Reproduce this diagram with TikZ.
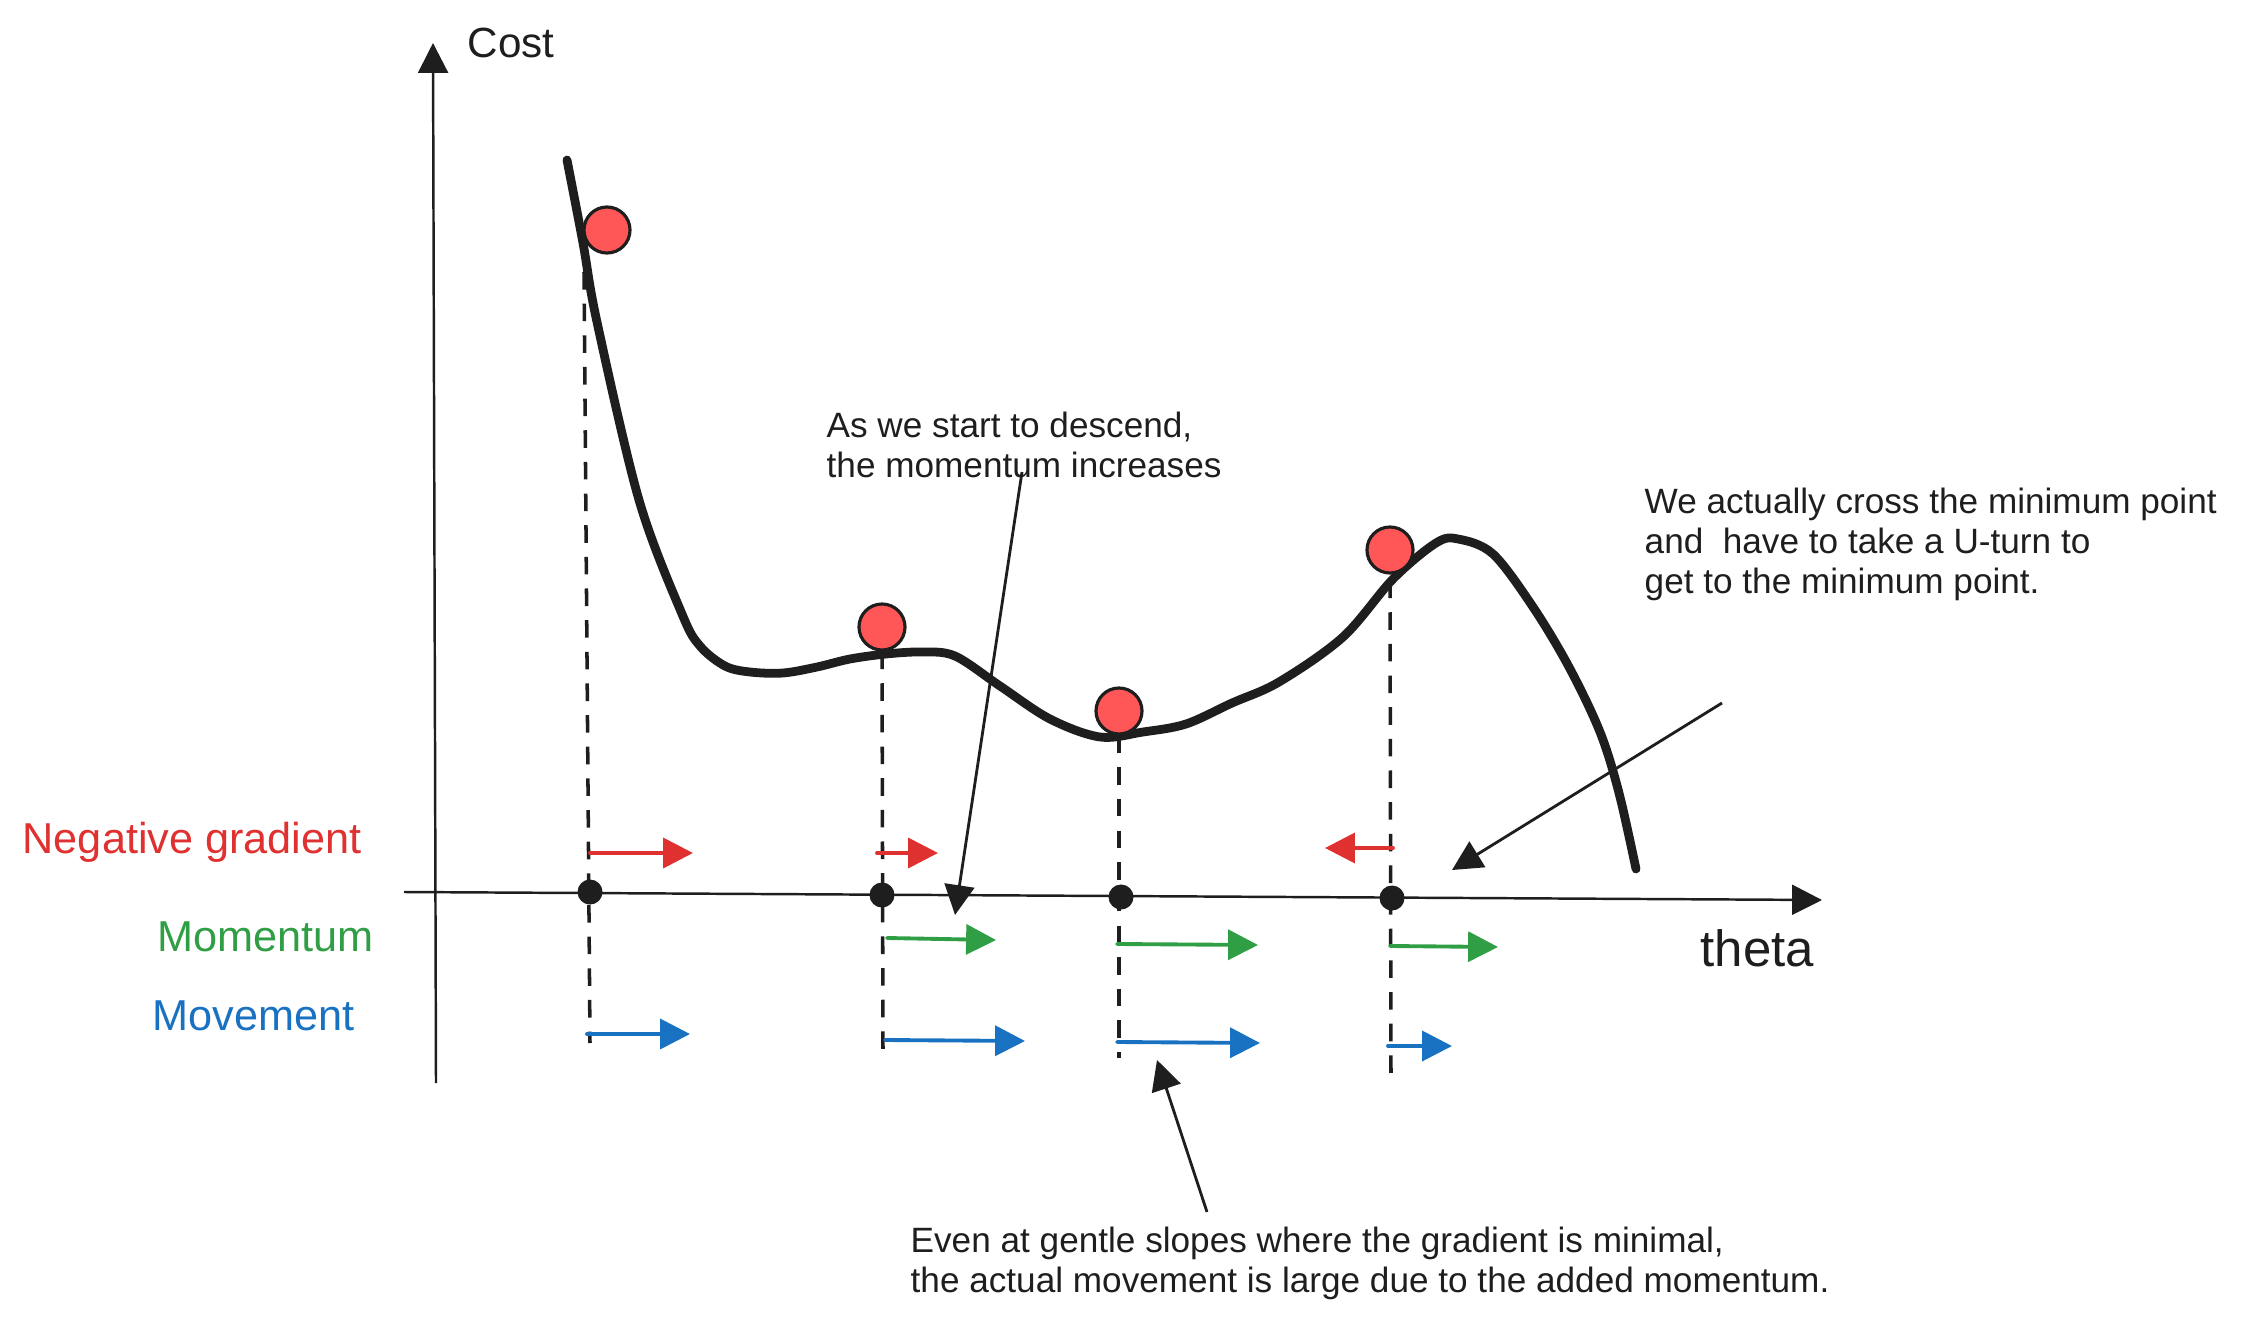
\documentclass[tikz,border=0pt]{standalone}
\usepackage{fontspec}
\setmainfont{Liberation Sans}
\usetikzlibrary{arrows.meta}
\definecolor{inkblack}{HTML}{1E1E1E}
\definecolor{gradred}{HTML}{E03131}
\definecolor{momgreen}{HTML}{2F9E44}
\definecolor{moveblue}{HTML}{1971C2}
\definecolor{ballred}{HTML}{FF5757}

\begin{document}
\begin{tikzpicture}[x=0.01cm, y=-0.01cm, >={Triangle[length=8.5pt,width=8.5pt]},
	note/.style={font=\fontsize{10}{11.4}\selectfont, text=inkblack, align=left, anchor=west, inner sep=0pt},
	rowlabel/.style={font=\fontsize{12.3}{14}\selectfont, anchor=west, inner sep=0pt},
	ball/.style={circle, draw=inkblack, line width=0.9pt, fill=ballred, minimum size=0.46cm, inner sep=0pt},
	dotpt/.style={circle, fill=inkblack, minimum size=0.25cm, inner sep=0pt},
	guide/.style={inkblack, line width=1pt, dash pattern=on 5pt off 4pt},
	vec/.style={->, line width=1.1pt, line cap=round},
	callout/.style={->, inkblack, line width=0.8pt}]
	\useasboundingbox (0,0) rectangle (2241,1324);
	\coordinate (xstart) at (404,892);
	\coordinate (xend) at (1822,900);
	\coordinate (ystart) at (436,1083);
	\coordinate (yend) at (433,43);
	\draw[->, inkblack, line width=0.7pt] (xstart) -- (xend);
	\draw[->, inkblack, line width=0.7pt] (ystart) -- (yend);
	\node[font=\fontsize{12}{14}\selectfont, text=inkblack, anchor=west, inner sep=0pt] (costlbl) at (467,43) {Cost};
	\node[font=\fontsize{14.5}{17}\selectfont, text=inkblack, anchor=west, inner sep=0pt] (thetalbl) at (1700,948) {theta};
	\draw[inkblack, line width=2.5pt, line cap=round, line join=round] plot[smooth, tension=0.55] coordinates {(567,160) (583,243) (597,322) (639,500) (682,614) (700,646) (725,666) (750,672) (783,673) (817,667) (850,659) (886,654) (922,652) (955,656) (1000,686) (1050,719) (1100,737) (1143,732) (1186,724) (1232,703) (1279,682) (1343,637) (1393,579) (1436,543) (1458,539) (1493,554) (1533,607) (1569,667) (1600,732) (1619,793) (1636,869)};
	\node[ball] (b1) at (607,230) {};
	\node[ball] (b2) at (882,627) {};
	\node[ball] (b3) at (1119,711) {};
	\node[ball] (b4) at (1390,550) {};
	\node[dotpt] (p1) at (590,892) {};
	\node[dotpt] (p2) at (882,895) {};
	\node[dotpt] (p3) at (1121,897) {};
	\node[dotpt] (p4) at (1392,898) {};
	\coordinate (d1) at (590,1043);
	\coordinate (d2) at (883,1052);
	\coordinate (d3) at (1119,1058);
	\coordinate (d4) at (1391,1077);
	\draw[guide] (584,272) -- (d1);
	\draw[guide] (b2.south) -- (d2);
	\draw[guide] (b3.south) -- (d3);
	\draw[guide] (b4.south) ++(0,6) -- (d4);
	\node[rowlabel, text=gradred] (gradlbl) at (22,842) {Negative gradient};
	\node[rowlabel, text=momgreen] (momlbl) at (157,937) {Momentum};
	\node[rowlabel, text=moveblue] (movelbl) at (152,1016) {Movement};
	\draw[vec, gradred] (590,853) -- (693,853);
	\draw[vec, gradred] (877,853) -- (938,853);
	\draw[vec, gradred] (1393,848) -- (1325,848);
	\draw[vec, momgreen] (887,938) -- (996,940);
	\draw[vec, momgreen] (1117,944) -- (1258,945);
	\draw[vec, momgreen] (1390,946) -- (1498,947);
	\draw[vec, moveblue] (587,1034) -- (690,1034);
	\draw[vec, moveblue] (885,1040) -- (1025,1041);
	\draw[vec, moveblue] (1117,1042) -- (1260,1043);
	\draw[vec, moveblue] (1388,1046) -- (1452,1046);
	\node[note] (descnote) at (826,445) {As we start to descend,\\the momentum increases};
	\node[note] (uturnnote) at (1644,544) {We actually cross the minimum point\\and \ have to take a U-turn to\\get to the minimum point.};
	\node[note] (slopenote) at (910,1263) {Even at gentle slopes where the gradient is minimal,\\the actual movement is large due to the added momentum.};
	\coordinate (desctail) at (1022,472);
	\coordinate (deschead) at (955,915);
	\coordinate (uturntail) at (1722,703);
	\coordinate (uturnhead) at (1452,870);
	\coordinate (slopetail) at (1207,1212);
	\coordinate (slopehead) at (1157,1060);
	\draw[callout] (desctail) -- (deschead);
	\draw[callout] (uturntail) -- (uturnhead);
	\draw[callout] (slopetail) -- (slopehead);
\end{tikzpicture}
\end{document}
